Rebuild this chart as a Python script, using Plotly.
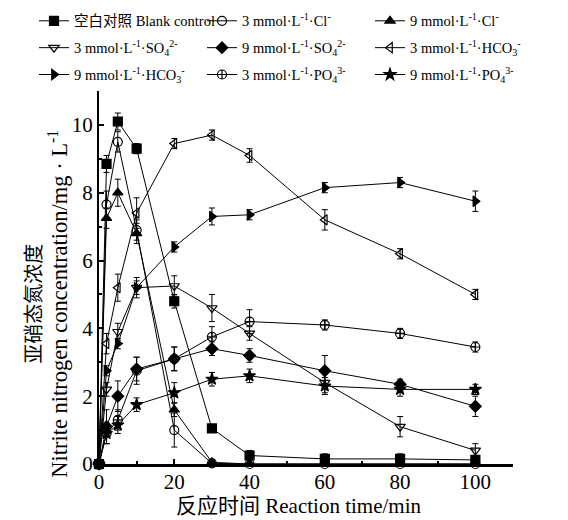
import plotly.graph_objects as go

time_min = [0, 2, 5, 10, 20, 30, 40, 60, 80, 100]

names = [
    "空白对照 Blank control",
    "3 mmol·L<sup>-1</sup>·Cl<sup>-</sup>",
    "9 mmol·L<sup>-1</sup>·Cl<sup>-</sup>",
    "3 mmol·L<sup>-1</sup>·SO<sub>4</sub><sup>2-</sup>",
    "9 mmol·L<sup>-1</sup>·SO<sub>4</sub><sup>2-</sup>",
    "3 mmol·L<sup>-1</sup>·HCO<sub>3</sub><sup>-</sup>",
    "9 mmol·L<sup>-1</sup>·HCO<sub>3</sub><sup>-</sup>",
    "3 mmol·L<sup>-1</sup>·PO<sub>4</sub><sup>3-</sup>",
    "9 mmol·L<sup>-1</sup>·PO<sub>4</sub><sup>3-</sup>",
]

blank = [0, 8.85, 10.1, 9.3, 4.8, 1.05, 0.25, 0.15, 0.15, 0.12]
cl3 = [0, 7.65, 9.5, 6.9, 1.0, 0.02, 0.0, 0.0, 0.0, 0.0]
cl9 = [0, 7.25, 8.0, 6.8, 1.6, 0.05, 0.0, 0.0, 0.0, 0.0]
so4_3 = [0, 2.2, 3.9, 5.2, 5.25, 4.6, 3.85, 2.4, 1.1, 0.4]
so4_9 = [0, 1.1, 2.0, 2.8, 3.1, 3.4, 3.2, 2.75, 2.35, 1.7]
hco3_3 = [0, 3.55, 5.2, 7.4, 9.45, 9.7, 9.1, 7.2, 6.2, 5.0]
hco3_9 = [0, 2.75, 3.55, 5.2, 6.4, 7.3, 7.35, 8.15, 8.3, 7.75]
po4_3 = [0, 0.9, 1.3, 2.75, 3.1, 3.75, 4.2, 4.1, 3.85, 3.45]
po4_9 = [0, 0.9, 1.15, 1.75, 2.1, 2.5, 2.6, 2.3, 2.2, 2.2]

err_blank = [0, 0.25, 0.25, 0.15, 0.2, 0.1, 0.15, 0.15, 0.15, 0.1]
err_cl3 = [0, 0.4, 0.3, 0.3, 0.5, 0.05, 0.05, 0.05, 0.05, 0.05]
err_cl9 = [0, 0.3, 0.4, 0.3, 0.2, 0.05, 0.05, 0.05, 0.05, 0.05]
err_so4_3 = [0, 0.2, 0.25, 0.3, 0.3, 0.4, 0.2, 0.3, 0.3, 0.2]
err_so4_9 = [0, 0.5, 0.45, 0.35, 0.35, 0.2, 0.2, 0.45, 0.15, 0.3]
err_hco3_3 = [0, 0.3, 0.4, 0.45, 0.15, 0.15, 0.2, 0.3, 0.15, 0.15]
err_hco3_9 = [0, 0.15, 0.15, 0.2, 0.15, 0.25, 0.15, 0.15, 0.15, 0.3]
err_po4_3 = [0, 0.3, 0.3, 0.4, 0.35, 0.3, 0.35, 0.15, 0.15, 0.15]
err_po4_9 = [0, 0.3, 0.25, 0.2, 0.3, 0.2, 0.2, 0.25, 0.2, 0.15]

series = [blank, cl3, cl9, so4_3, so4_9, hco3_3, hco3_9, po4_3, po4_9]
errors = [err_blank, err_cl3, err_cl9, err_so4_3, err_so4_9,
          err_hco3_3, err_hco3_9, err_po4_3, err_po4_9]
symbols = ["square", "circle-open", "triangle-up", "triangle-down-open",
           "diamond", "triangle-left-open", "triangle-right",
           "circle-cross-open", "star"]
legend_rows = ["legend", "legend", "legend",
               "legend2", "legend2", "legend2",
               "legend3", "legend3", "legend3"]

FONT = "Liberation Serif, Times New Roman, Noto Sans CJK SC, serif"

fig = go.Figure()
for name, ys, es, sym, lg in zip(names, series, errors, symbols, legend_rows):
    fig.add_trace(go.Scatter(
        x=time_min, y=ys, name=name, mode="lines+markers", legend=lg,
        line=dict(color="black", width=1),
        marker=dict(symbol=sym, size=9, color="black",
                    line=dict(color="black", width=1.2)),
        error_y=dict(type="data", array=es, visible=True, color="black",
                     thickness=1, width=3),
        cliponaxis=False,
    ))

legend_common = dict(
    orientation="h", x=-0.157, xanchor="left", yanchor="middle",
    entrywidth=123, entrywidthmode="pixels",
    font=dict(family=FONT, size=14.5, color="black"),
    bgcolor="rgba(0,0,0,0)", itemwidth=30,
)

fig.update_layout(
    width=568, height=520,
    margin=dict(l=91, r=63, t=83, b=64, autoexpand=False),
    paper_bgcolor="white", plot_bgcolor="white",
    font=dict(family=FONT, color="black", size=18),
    showlegend=True,
    legend=dict(y=1.188, **legend_common),
    legend2=dict(y=1.116, **legend_common),
    legend3=dict(y=1.044, **legend_common),
    xaxis=dict(
        range=[0, 110], tickvals=[0, 20, 40, 60, 80, 100],
        ticks="inside", ticklen=5, tickwidth=1.5, tickcolor="black",
        minor=dict(dtick=10, ticks="inside", ticklen=3, tickcolor="black"),
        showline=True, linecolor="black", linewidth=2.5, showgrid=False,
        zeroline=False, tickfont=dict(size=21), ticklabelstandoff=-3,
    ),
    yaxis=dict(
        range=[0, 11], tickvals=[0, 2, 4, 6, 8, 10],
        ticks="inside", ticklen=5, tickwidth=1.5, tickcolor="black",
        minor=dict(dtick=1, ticks="inside", ticklen=3, tickcolor="black"),
        showline=True, linecolor="black", linewidth=2, showgrid=False,
        zeroline=False, tickfont=dict(size=21),
    ),
    annotations=[
        dict(text="反应时间 Reaction time/min", xref="paper", yref="paper",
             x=0.481, y=-0.113, xanchor="center", yanchor="middle",
             showarrow=False, font=dict(size=21)),
        dict(text="亚硝态氮浓度", xref="paper", yref="paper",
             x=-0.159, y=0.43, xanchor="center", yanchor="middle",
             textangle=-90, showarrow=False, font=dict(size=20)),
        dict(text="Nitrite nitrogen concentration/mg · L<sup>-1</sup>",
             xref="paper", yref="paper", x=-0.101, y=0.43,
             xanchor="center", yanchor="middle", textangle=-90,
             showarrow=False, font=dict(size=22.5)),
    ],
)

fig.write_html("out.html")
